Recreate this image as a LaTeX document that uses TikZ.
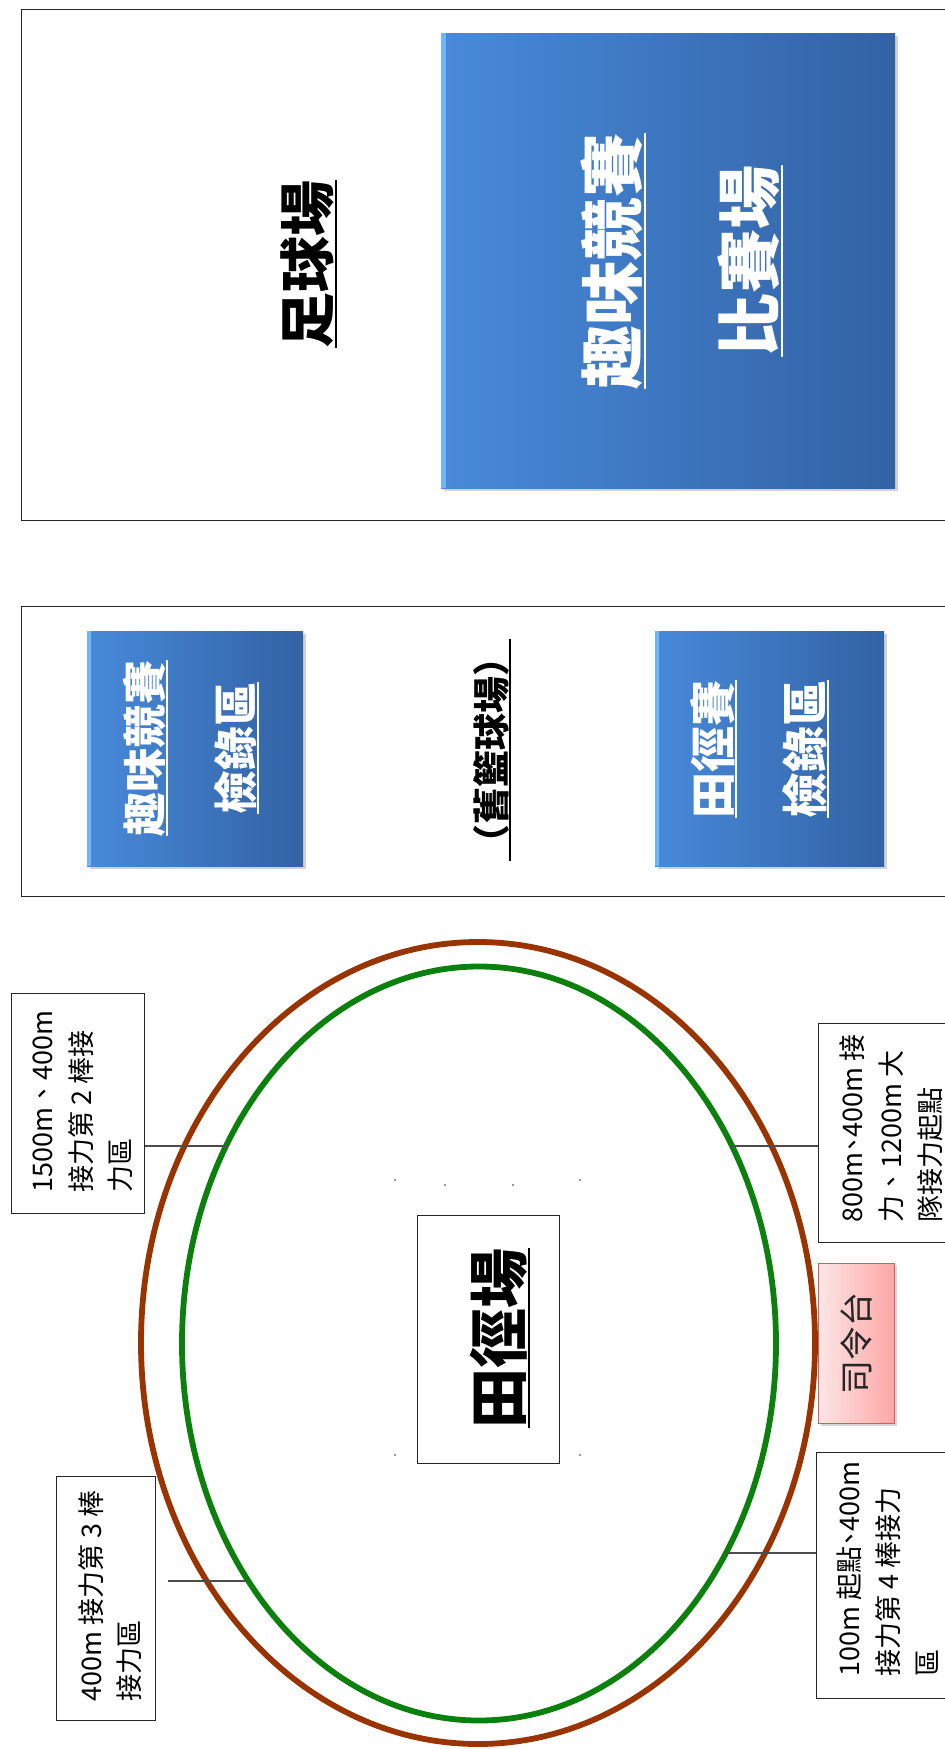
\documentclass[tikz,border=0pt]{standalone}
\usepackage{fontspec}
\setmainfont{Noto Sans CJK TC}
\usetikzlibrary{shadows}
\definecolor{blueL}{RGB}{72,138,218}
\definecolor{blueR}{RGB}{50,98,164}
\definecolor{blueHi}{RGB}{112,182,250}
\definecolor{pinkL}{RGB}{253,230,230}
\definecolor{pinkR}{RGB}{255,166,166}
\definecolor{pinkD}{RGB}{214,92,92}
\definecolor{trackBrown}{RGB}{153,51,0}
\definecolor{trackGreen}{RGB}{12,128,12}
\newcommand\myul[1]{\setbox0=\hbox{#1}\rlap{\rule[-0.14em]{\wd0}{2pt}}\box0}
\newcommand\shortdun{\kern-0.22em、\kern-0.22em}
\tikzset{
  frame/.style={draw=black!85, line width=1.4pt, fill=none, inner sep=0pt, anchor=north west},
  bluebox/.style={inner sep=0pt, anchor=north west, left color=blueL, right color=blueR,
    drop shadow={shadow xshift=3pt, shadow yshift=-3pt, opacity=.35}},
  pinkbox/.style={inner sep=0pt, anchor=north west, draw=pinkD, line width=0.9pt, left color=pinkL, right color=pinkR,
    drop shadow={shadow xshift=3pt, shadow yshift=-3pt, opacity=.3}},
  labelbox/.style={draw=black!85, line width=1.2pt, fill=white, inner sep=0pt, anchor=north west},
  labeltxt/.style={rotate=90, anchor=north west, inner sep=0pt, align=left, text=black,
    font=\fontsize{27}{39}\selectfont},
  bigtxt/.style={rotate=90, inner sep=0pt, align=center},
  conn/.style={draw=black!70, line width=1.3pt},
  track/.style={line width=5.8pt},
  speck/.style={fill=black!55}
}
\begin{document}
\begin{tikzpicture}[x=1pt,y=-1pt]
\useasboundingbox (0,0) rectangle (945,1749);
\fill[white] (0,0) rectangle (945,1749);

% football field
\node[frame, minimum width=960pt, minimum height=511pt] (fieldbox) at (21,9) {};
\node[bigtxt, font=\bfseries\fontsize{56}{60}\selectfont] (footballtxt) at (309,264) {\myul{足球場}};
\node[bluebox, minimum width=454pt, minimum height=455pt] (funfield) at (441,33) {};
\fill[blueHi] (funfield.north west) rectangle ([xshift=5pt]funfield.south west);
\node[bigtxt, text=white, font=\bfseries\fontsize{64}{137}\selectfont] (funfieldtxt) at (682,261) {\myul{趣味競賽}\\\myul{比賽場}};

% old basketball court
\node[frame, minimum width=960pt, minimum height=290pt] (courtbox) at (21,606) {};
\node[bluebox, minimum width=216pt, minimum height=235pt] (funcheck) at (87,631) {};
\fill[blueHi] (funcheck.north west) rectangle ([xshift=4pt]funcheck.south west);
\node[bigtxt, text=white, font=\bfseries\fontsize{44}{91}\selectfont] (funchecktxt) at (191,748) {\myul{趣味競賽}\\\myul{檢錄區}};
\node[bigtxt, text=black, font=\bfseries\fontsize{37}{40}\selectfont] (courttxt) at (492,750) {\myul{（舊籃球場）}};
\node[bluebox, minimum width=229pt, minimum height=235pt] (tfcheck) at (655,631) {};
\fill[blueHi] (tfcheck.north west) rectangle ([xshift=4pt]tfcheck.south west);
\node[bigtxt, text=white, font=\bfseries\fontsize{46}{92}\selectfont] (tfchecktxt) at (760,749) {\myul{田徑賽}\\\myul{檢錄區}};

% track
\draw[track, draw=trackBrown] (478,1343) ellipse [x radius=337, y radius=401];
\draw[track, draw=trackGreen] (479,1343.5) ellipse [x radius=297, y radius=377];

% specks
\foreach \p in {(395,1180),(445,1185),(513,1185),(580,1180),(395,1455),(580,1455)}
  \fill[speck] \p circle[radius=1.2];

% centre label
\node[labelbox, line width=1.4pt, minimum width=142pt, minimum height=248pt] (tfbox) at (417,1215) {};
\node[bigtxt, text=black, font=\bfseries\fontsize{60}{64}\selectfont] (tftxt) at (500,1338) {\myul{田徑場}};

% rostrum
\node[pinkbox, minimum width=76pt, minimum height=160pt] (rostrum) at (818,1263) {};
\node[bigtxt, text=black!85, font=\fontsize{34}{38}\selectfont] (rostrumtxt) at (rostrum.center) {司令台};

% relay labels
\node[labelbox, minimum width=133pt, minimum height=220pt] (lbA) at (11,993) {};
\node[labeltxt] (lbAtxt) at (29,1193) {\vphantom{接}1500m、400m\\接力第 2 棒接\\力區};
\node[labelbox, minimum width=150pt, minimum height=219pt] (lbB) at (818,1023) {};
\node[labeltxt] (lbBtxt) at (839,1223) {\vphantom{接}800m\shortdun 400m 接\\力、1200m 大\\隊接力起點};
\node[labelbox, minimum width=99pt, minimum height=244pt] (lbC) at (56,1476) {};
\node[labeltxt, font=\fontsize{27}{38}\selectfont] (lbCtxt) at (78,1702) {\vphantom{接}400m 接力第 3 棒\\接力區};
\node[labelbox, minimum width=150pt, minimum height=246pt] (lbD) at (816,1452) {};
\node[labeltxt] (lbDtxt) at (836,1677) {\vphantom{接}100m 起點\shortdun 400m\\接力第 4 棒接力\\區};

% connectors
\coordinate (pA) at (229,1146);
\coordinate (pB) at (731,1146);
\coordinate (pC1) at (168,1581);
\coordinate (pC2) at (247,1581);
\coordinate (pD) at (726,1553);
\draw[conn] (lbA.east |- pA) -- (pA);
\draw[conn] (pB) -- (lbB.west |- pB);
\draw[conn] (pC1) -- (pC2);
\draw[conn] (pD) -- (lbD.west |- pD);
\end{tikzpicture}
\end{document}
